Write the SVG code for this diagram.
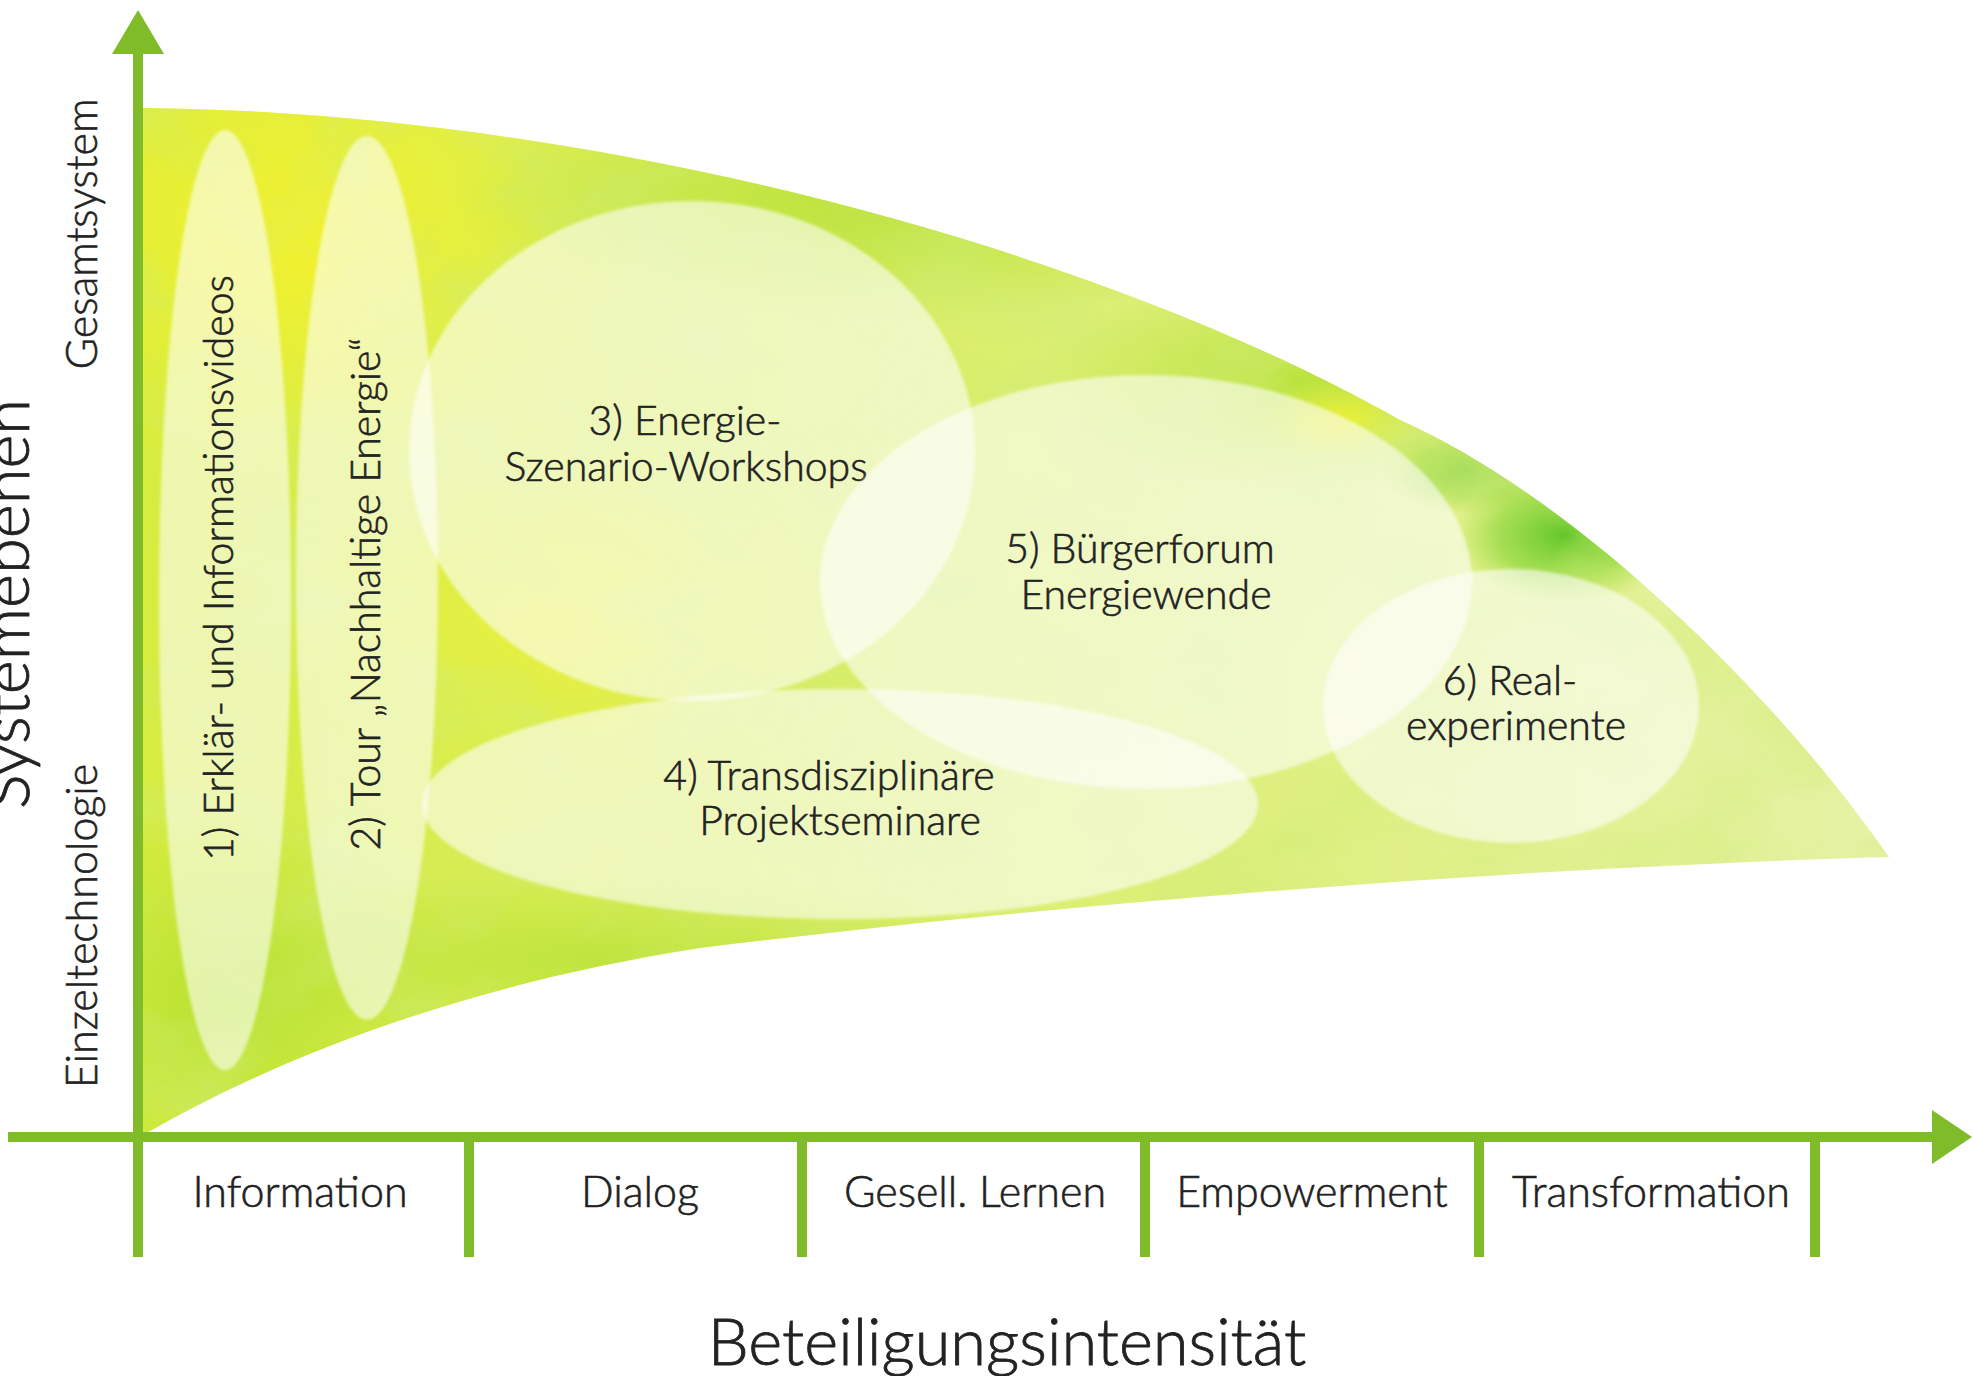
<svg xmlns="http://www.w3.org/2000/svg" width="1972" height="1376" viewBox="0 0 1972 1376">
<style>
  .lbl { font-family: Lato, "Open Sans", "Liberation Sans", sans-serif; font-weight: 300; font-size: 41px; fill: #222222; stroke: #222222; stroke-width: 0.6; text-anchor: middle; }
  .ax { font-family: Lato, "Open Sans", "Liberation Sans", sans-serif; font-weight: 300; font-size: 43px; fill: #222222; stroke: #222222; stroke-width: 0.6; text-anchor: middle; }
  .title { font-family: Lato, "Open Sans", "Liberation Sans", sans-serif; font-weight: 300; font-size: 65px; fill: #222222; stroke: #222222; stroke-width: 0.8; text-anchor: middle; }
  .blob { fill: #ffffff; fill-opacity: 0.58; }
  .axis { stroke: #80bc2a; stroke-width: 10; fill: none; }
  .head { fill: #80bc2a; }
</style>
<defs>
  <clipPath id="shapeClip">
    <path d="M143,108 C600,112 1100,250 1400,420 C1580,500 1780,700 1889,857 C1500,868 1050,905 700,948 C480,982 290,1050 143,1135 Z"/>
  </clipPath>
  <linearGradient id="base" x1="0" y1="0" x2="1" y2="0">
    <stop offset="0" stop-color="#d6ec3e"/>
    <stop offset="0.45" stop-color="#daee6a"/>
    <stop offset="1" stop-color="#e6f2a6"/>
  </linearGradient>
  <radialGradient id="yel1" cx="0.5" cy="0.5" r="0.5">
    <stop offset="0" stop-color="#f6f22a" stop-opacity="0.9"/>
    <stop offset="1" stop-color="#f6f22a" stop-opacity="0"/>
  </radialGradient>
  <radialGradient id="lime" cx="0.5" cy="0.5" r="0.5">
    <stop offset="0" stop-color="#b4e030" stop-opacity="0.85"/>
    <stop offset="1" stop-color="#b4e030" stop-opacity="0"/>
  </radialGradient>
  <radialGradient id="grn" cx="0.5" cy="0.5" r="0.5">
    <stop offset="0" stop-color="#5cc424" stop-opacity="0.95"/>
    <stop offset="0.6" stop-color="#7ed22c" stop-opacity="0.6"/>
    <stop offset="1" stop-color="#9ad830" stop-opacity="0"/>
  </radialGradient>
  <filter id="tex" x="0" y="0" width="100%" height="100%">
    <feTurbulence type="fractalNoise" baseFrequency="0.008 0.012" numOctaves="4" seed="7"/>
    <feColorMatrix type="matrix" values="0 0 0 0 0.62  0 0 0 0 0.84  0 0 0 0 0.18  2.6 0 0 0 -1.1"/>
  </filter>
  <filter id="soft" x="-5%" y="-5%" width="110%" height="110%">
    <feGaussianBlur stdDeviation="1.5"/>
  </filter>
</defs>

<g id="field" clip-path="url(#shapeClip)">
  <rect x="130" y="100" width="1780" height="1050" fill="url(#base)"/>
  <ellipse cx="300" cy="230" rx="320" ry="260" fill="url(#yel1)"/>
  <ellipse cx="560" cy="620" rx="280" ry="200" fill="url(#yel1)" opacity="0.55"/>
  <ellipse cx="230" cy="1000" rx="240" ry="200" fill="url(#lime)"/>
  <ellipse cx="900" cy="200" rx="450" ry="120" fill="url(#lime)"/>
  <ellipse cx="1300" cy="380" rx="260" ry="110" fill="url(#lime)"/>
  <ellipse cx="600" cy="960" rx="420" ry="90" fill="url(#lime)" opacity="0.8"/>
  <ellipse cx="1565" cy="535" rx="110" ry="70" fill="url(#grn)"/>
  <ellipse cx="1470" cy="470" rx="90" ry="45" fill="url(#grn)" opacity="0.6"/>
  <ellipse cx="1340" cy="420" rx="80" ry="40" fill="url(#yel1)" opacity="0.8"/>
  <rect x="130" y="100" width="1780" height="1050" filter="url(#tex)" opacity="0.45"/>
</g>

<g id="node1">
  <ellipse class="blob" cx="225" cy="600" rx="66" ry="470" filter="url(#soft)"/>
  <text class="lbl" transform="translate(233,568) rotate(-90)">1) Erklär- und Informationsvideos</text>
</g>
<g id="node2">
  <ellipse class="blob" cx="367" cy="578" rx="71" ry="442" filter="url(#soft)"/>
  <text class="lbl" transform="translate(380,594) rotate(-90)">2) Tour „Nachhaltige Energie“</text>
</g>
<g id="node3">
  <ellipse class="blob" cx="692" cy="451" rx="283" ry="250" filter="url(#soft)"/>
  <text class="lbl" x="685" y="435">3) Energie-</text>
  <text class="lbl" x="686" y="481">Szenario-Workshops</text>
</g>
<g id="node4">
  <ellipse class="blob" cx="840" cy="804" rx="418" ry="115" filter="url(#soft)"/>
  <text class="lbl" x="829" y="790">4) Transdisziplinäre</text>
  <text class="lbl" x="840" y="835">Projektseminare</text>
</g>
<g id="node5">
  <ellipse class="blob" cx="1146" cy="582" rx="326" ry="207" filter="url(#soft)"/>
  <text class="lbl" x="1140" y="563">5) Bürgerforum</text>
  <text class="lbl" x="1146" y="609">Energiewende</text>
</g>
<g id="node6">
  <ellipse class="blob" cx="1511" cy="706" rx="188" ry="137" filter="url(#soft)"/>
  <text class="lbl" x="1510" y="695">6) Real-</text>
  <text class="lbl" x="1516" y="740">experimente</text>
</g>

<g id="connectors">
  <line class="axis" x1="138" y1="45" x2="138" y2="1257"/>
  <polygon class="head" points="138,10 164,54 112,54"/>
  <line class="axis" x1="8" y1="1137" x2="1940" y2="1137"/>
  <polygon class="head" points="1972,1137 1932,1110 1932,1164"/>
  <line class="axis" x1="469" y1="1137" x2="469" y2="1257"/>
  <line class="axis" x1="802" y1="1137" x2="802" y2="1257"/>
  <line class="axis" x1="1145" y1="1137" x2="1145" y2="1257"/>
  <line class="axis" x1="1479" y1="1137" x2="1479" y2="1257"/>
  <line class="axis" x1="1815" y1="1137" x2="1815" y2="1257"/>
</g>

<g id="axis-labels">
  <text class="ax" x="300" y="1207">Information</text>
  <text class="ax" x="640" y="1207">Dialog</text>
  <text class="ax" x="975" y="1207">Gesell. Lernen</text>
  <text class="ax" x="1312" y="1207">Empowerment</text>
  <text class="ax" x="1651" y="1207">Transformation</text>
  <text class="title" x="1007" y="1365">Beteiligungsintensität</text>
  <text class="ax" transform="translate(97,234) rotate(-90)">Gesamtsystem</text>
  <text class="ax" transform="translate(97,926) rotate(-90)">Einzeltechnologie</text>
  <text class="title" transform="translate(29,604) rotate(-90)">Systemebenen</text>
</g>
</svg>
